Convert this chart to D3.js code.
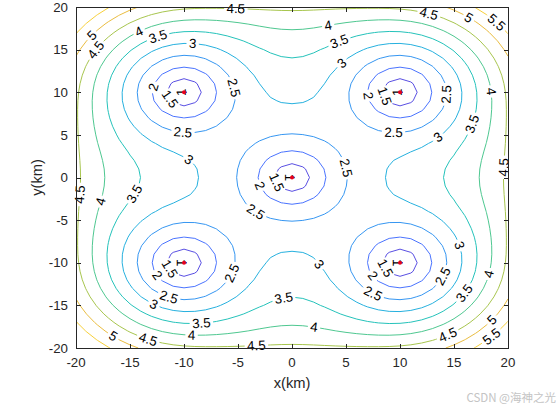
<!DOCTYPE html>
<html><head><meta charset="utf-8">
<script src="https://cdn.jsdelivr.net/npm/d3@7"></script>
<style>
body{margin:0;background:#fff;}
svg{display:block;font-family:"Liberation Sans",Arial,Helvetica,sans-serif;}
</style></head><body>
<svg id="chart" width="560" height="410"></svg>
<script>
// ---------------- data ----------------
const sourceX = [-10, 10, 0, -10, 10];
const sourceY = [10, 10, 0, -10, -10];
const levels = [1, 1.5, 2, 2.5, 3, 3.5, 4, 4.5, 5, 5.5];
const xTicks = [-20, -15, -10, -5, 0, 5, 10, 15, 20];
const yTicks = [-20, -15, -10, -5, 0, 5, 10, 15, 20];
const xDomain = [-20, 20];
const yDomain = [-20, 20];
const gridStep = 1;            // km, mesh spacing
// field model parameters (value near a source, growth per km, blending)
const fieldBase = 0.9;
const fieldSlope = 0.38;
const blendPower = 2.08;
const reachKm = 19.5;
const reachSharpness = 12;
// contour label anchors: [level, x(km), y(km)]
const labelAnchors = [
  [5,-18.4,16.5],[4.5,-18.1,14.9],[4,-14.0,16.7],[3.5,-12.3,16.1],[3,-9.2,15.4],
  [2,-12.9,10.6],[1.5,-11.3,9.2],[1,-10.4,10.1],[2.5,-5.8,10.4],[2.5,-10.1,5.3],
  [3,-9.6,2.0],[4.5,-5.2,19.6],
  [4,3.4,17.5],[3.5,4.6,15.3],[3,4.75,13.2],[4.5,12.6,18.8],[5,16.3,18.6],[5.5,18.5,17.5],
  [2,7.1,9.6],[1.5,8.3,9.4],[1,9.6,9.9],[2.5,13.9,9.8],[2.5,9.4,5.3],[4,18.0,10.0],
  [3,13.4,4.95],[3.5,16.2,6.5],[4.5,19.6,1.2],
  [2.5,4.4,0.9],[2,-3.9,-1.2],[1.5,-2.0,-0.9],[1,-0.4,-0.2],[2.5,-3.4,-4.1],
  [4.5,-19.5,-2.0],[4,-17.2,-3.0],[3.5,-14.1,-2.25],[1,-10.4,-10.2],[1.5,-11.3,-10.7],
  [2,-12.6,-11.6],[2.5,-11.3,-13.6],[3,-12.7,-14.6],[2.5,-5.8,-11.05],[3.5,-0.8,-13.8],
  [3.5,-8.4,-16.9],[4,-9.3,-18.5],[4.5,-13.3,-18.9],[5,-16.6,-18.7],[4.5,-3.3,-19.6],
  [3,2.6,-10.1],[4,2.1,-17.1],[1,9.6,-10.1],[1.5,8.6,-10.65],[2,7.4,-11.6],[2.5,7.5,-13.6],
  [2.5,13.7,-11.4],[3,15.25,-8.1],[3.5,15.6,-13.2],[4,17.9,-11.2],[4.5,14.3,-18.1],
  [5,18.5,-16.7],[5.5,18.5,-18.7]
];
// ---------------- style ----------------
const levelColors = ["#402ab4","#5046e0","#406cfe","#2b90f0","#1aacdc","#19bfb6","#44c48a","#a2c244","#e8b836","#f6cc2e"];
const axisColor = "#262626";
const fontSize = 13.3;
const contourWidth = 0.95;

// ---------------- layout ----------------
const svg = d3.select("#chart");
const plot = {left: 76, right: 508, top: 7, bottom: 348};
const x = d3.scaleLinear().domain(xDomain).range([plot.left, plot.right]);
const y = d3.scaleLinear().domain(yDomain).range([plot.bottom, plot.top]);

// ---------------- field on mesh ----------------
function field(px, py) {
  let s = 0;
  for (let k = 0; k < sourceX.length; k++) {
    const d = Math.hypot(px - sourceX[k], py - sourceY[k]);
    if (d < 1e-9) return fieldBase;
    const w = 1 / (1 + Math.pow(d / reachKm, reachSharpness));
    s += w * Math.pow(d, -blendPower);
  }
  return fieldBase + fieldSlope * Math.pow(s, -1 / blendPower);
}
const gx = d3.range(xDomain[0], xDomain[1] + 1e-9, gridStep);
const gy = d3.range(yDomain[0], yDomain[1] + 1e-9, gridStep);
const nx = gx.length, ny = gy.length;
const values = new Array(nx * ny);
for (let j = 0; j < ny; j++) for (let i = 0; i < nx; i++) values[j * nx + i] = field(gx[i], gy[j]);

const contours = d3.contours().size([nx, ny]).thresholds(levels)(values);

// convert contour rings into open / closed polylines in pixel space
const eps = 1e-9;
function isEdge(p) { return p[0] <= eps || p[0] >= nx - eps || p[1] <= eps || p[1] >= ny - eps; }
function toPx(p) { return [x(xDomain[0] + (p[0] - 0.5) * gridStep), y(yDomain[0] + (p[1] - 0.5) * gridStep)]; }

const linesByLevel = new Map();
contours.forEach(c => {
  const lines = [];
  c.coordinates.forEach(poly => poly.forEach(ring => {
    let r = ring.slice();
    if (r.length > 1 && r[0][0] === r[r.length-1][0] && r[0][1] === r[r.length-1][1]) r.pop();
    const edgeIdx = r.findIndex(isEdge);
    if (edgeIdx < 0) {
      if (r.length >= 3) lines.push({pts: r.map(toPx), closed: true});
    } else {
      const rr = r.slice(edgeIdx).concat(r.slice(0, edgeIdx));
      let cur = [];
      rr.forEach(p => {
        if (isEdge(p)) { if (cur.length >= 2) lines.push({pts: cur.map(toPx), closed: false}); cur = []; }
        else cur.push(p);
      });
      if (cur.length >= 2) lines.push({pts: cur.map(toPx), closed: false});
    }
  }));
  lines.forEach(l => {
    if (l.closed) l.pts.push(l.pts[0]);
    l.cum = [0];
    for (let i = 1; i < l.pts.length; i++) l.cum.push(l.cum[i-1] + Math.hypot(l.pts[i][0]-l.pts[i-1][0], l.pts[i][1]-l.pts[i-1][1]));
    l.L = l.cum[l.cum.length-1];
    l.gaps = [];
  });
  linesByLevel.set(c.value, lines);
});

function pointAt(l, s) {
  if (l.closed) s = ((s % l.L) + l.L) % l.L; else s = Math.max(0, Math.min(l.L, s));
  let i = d3.bisectRight(l.cum, s) - 1;
  i = Math.max(0, Math.min(l.pts.length - 2, i));
  const seg = l.cum[i+1] - l.cum[i];
  const t = seg > 0 ? (s - l.cum[i]) / seg : 0;
  return [l.pts[i][0] + t * (l.pts[i+1][0] - l.pts[i][0]), l.pts[i][1] + t * (l.pts[i+1][1] - l.pts[i][1])];
}
function subpath(l, a, b) {
  const out = [pointAt(l, a)];
  for (let i = 0; i < l.pts.length; i++) if (l.cum[i] > a && l.cum[i] < b) out.push(l.pts[i]);
  out.push(pointAt(l, b));
  return out;
}

// measure text
const meas = svg.append("text").attr("font-size", fontSize).attr("visibility", "hidden");
function textW(t) { meas.text(t); return meas.node().getComputedTextLength(); }

// snap labels onto their contour lines
const labels = [];
labelAnchors.forEach(([lv, ax, ay]) => {
  const lines = linesByLevel.get(lv) || [];
  const P = [x(ax), y(ay)];
  let best = null;
  lines.forEach(l => {
    for (let i = 0; i < l.pts.length - 1; i++) {
      const A = l.pts[i], B = l.pts[i+1];
      const dx = B[0]-A[0], dy = B[1]-A[1], len2 = dx*dx+dy*dy;
      let t = len2 > 0 ? ((P[0]-A[0])*dx + (P[1]-A[1])*dy) / len2 : 0;
      t = Math.max(0, Math.min(1, t));
      const Q = [A[0]+t*dx, A[1]+t*dy];
      const d = Math.hypot(Q[0]-P[0], Q[1]-P[1]);
      if (!best || d < best.d) best = {d, l, s: l.cum[i] + t*(l.cum[i+1]-l.cum[i])};
    }
  });
  if (!best) return;
  const text = String(lv);
  const hw = textW(text) / 2 + 2.5;
  const l = best.l;
  const h = Math.max(hw, 4);
  const p1 = pointAt(l, best.s - h), p2 = pointAt(l, best.s + h);
  let ang = Math.atan2(p2[1]-p1[1], p2[0]-p1[0]) * 180 / Math.PI;
  if (ang > 90) ang -= 180; if (ang < -90) ang += 180;
  const c = pointAt(l, best.s);
  l.gaps.push([best.s - hw, best.s + hw]);
  labels.push({text, c, ang});
});

// ---------------- draw contours ----------------
svg.append("defs").append("clipPath").attr("id", "clip").append("rect")
  .attr("x", plot.left).attr("y", plot.top).attr("width", plot.right - plot.left).attr("height", plot.bottom - plot.top);
const gC = svg.append("g").attr("clip-path", "url(#clip)");
const lineGen = d3.line();
levels.forEach((lv, li) => {
  const lines = linesByLevel.get(lv) || [];
  lines.forEach(l => {
    let pieces = [];
    if (!l.gaps.length) {
      pieces.push({pts: l.pts, closed: l.closed});
    } else {
      let iv = [];
      l.gaps.forEach(([a, b]) => {
        if (l.closed) {
          if (b - a >= l.L) { iv.push([0, l.L]); return; }
          if (a < 0) { iv.push([a + l.L, l.L]); iv.push([0, b]); }
          else if (b > l.L) { iv.push([a, l.L]); iv.push([0, b - l.L]); }
          else iv.push([a, b]);
        } else iv.push([Math.max(0, a), Math.min(l.L, b)]);
      });
      iv.sort((u, v) => u[0] - v[0]);
      const merged = [];
      iv.forEach(g => { if (merged.length && g[0] <= merged[merged.length-1][1]) merged[merged.length-1][1] = Math.max(merged[merged.length-1][1], g[1]); else merged.push(g.slice()); });
      let pos = 0;
      merged.forEach(g => { if (g[0] - pos > 0.5) pieces.push({pts: subpath(l, pos, g[0]), closed: false}); pos = Math.max(pos, g[1]); });
      if (l.L - pos > 0.5) pieces.push({pts: subpath(l, pos, l.L), closed: false});
    }
    pieces.forEach(pc => {
      gC.append("path").attr("d", lineGen(pc.pts) + (pc.closed ? "Z" : ""))
        .attr("fill", "none").attr("stroke", levelColors[li]).attr("stroke-width", contourWidth)
        .attr("stroke-linejoin", "round");
    });
  });
});

// labels
svg.append("g").selectAll("text").data(labels).join("text")
  .attr("transform", d => `translate(${d.c[0]},${d.c[1]}) rotate(${d.ang})`)
  .attr("text-anchor", "middle").attr("dominant-baseline", "central")
  .attr("font-size", fontSize).attr("fill", "#000").text(d => d.text);

// source markers
svg.append("g").selectAll("circle").data(sourceX.map((sx, i) => [sx, sourceY[i]])).join("circle")
  .attr("cx", d => x(d[0])).attr("cy", d => y(d[1])).attr("r", 2).attr("fill", "#e8001c");

// ---------------- axes ----------------
const ax = svg.append("g").attr("stroke", axisColor).attr("shape-rendering", "crispEdges");
ax.append("rect").attr("x", plot.left + 0.5).attr("y", plot.top + 0.5)
  .attr("width", plot.right - plot.left).attr("height", plot.bottom - plot.top)
  .attr("fill", "none").attr("stroke-width", 1);
const tl = 4.5;
xTicks.forEach(t => {
  const px = Math.round(x(t)) + 0.5;
  ax.append("line").attr("x1", px).attr("x2", px).attr("y1", plot.bottom).attr("y2", plot.bottom - tl);
  ax.append("line").attr("x1", px).attr("x2", px).attr("y1", plot.top).attr("y2", plot.top + tl);
});
yTicks.forEach(t => {
  const py = Math.round(y(t)) + 0.5;
  ax.append("line").attr("y1", py).attr("y2", py).attr("x1", plot.left).attr("x2", plot.left + tl);
  ax.append("line").attr("y1", py).attr("y2", py).attr("x1", plot.right).attr("x2", plot.right - tl);
});
svg.append("g").selectAll("text").data(xTicks).join("text")
  .attr("x", d => x(d)).attr("y", 367).attr("text-anchor", "middle")
  .attr("font-size", fontSize).attr("fill", axisColor).text(d => d);
svg.append("g").selectAll("text").data(yTicks).join("text")
  .attr("x", plot.left - 8).attr("y", d => y(d)).attr("dy", "0.35em").attr("text-anchor", "end")
  .attr("font-size", fontSize).attr("fill", axisColor).text(d => d);
svg.append("text").attr("x", (plot.left + plot.right) / 2).attr("y", 388).attr("text-anchor", "middle")
  .attr("font-size", 14.7).attr("fill", axisColor).text("x(km)");
svg.append("text").attr("transform", `translate(42,${(plot.top + plot.bottom) / 2}) rotate(-90)`)
  .attr("text-anchor", "middle").attr("font-size", 14.7).attr("fill", axisColor).text("y(km)");
svg.append("text").attr("x", 556).attr("y", 402).attr("text-anchor", "end")
  .attr("font-family", "'Noto Sans CJK SC','Liberation Sans',sans-serif")
  .attr("font-size", 11.5).attr("fill", "#c4c4c4").text("CSDN @海神之光");
meas.remove();
</script>
</body></html>
